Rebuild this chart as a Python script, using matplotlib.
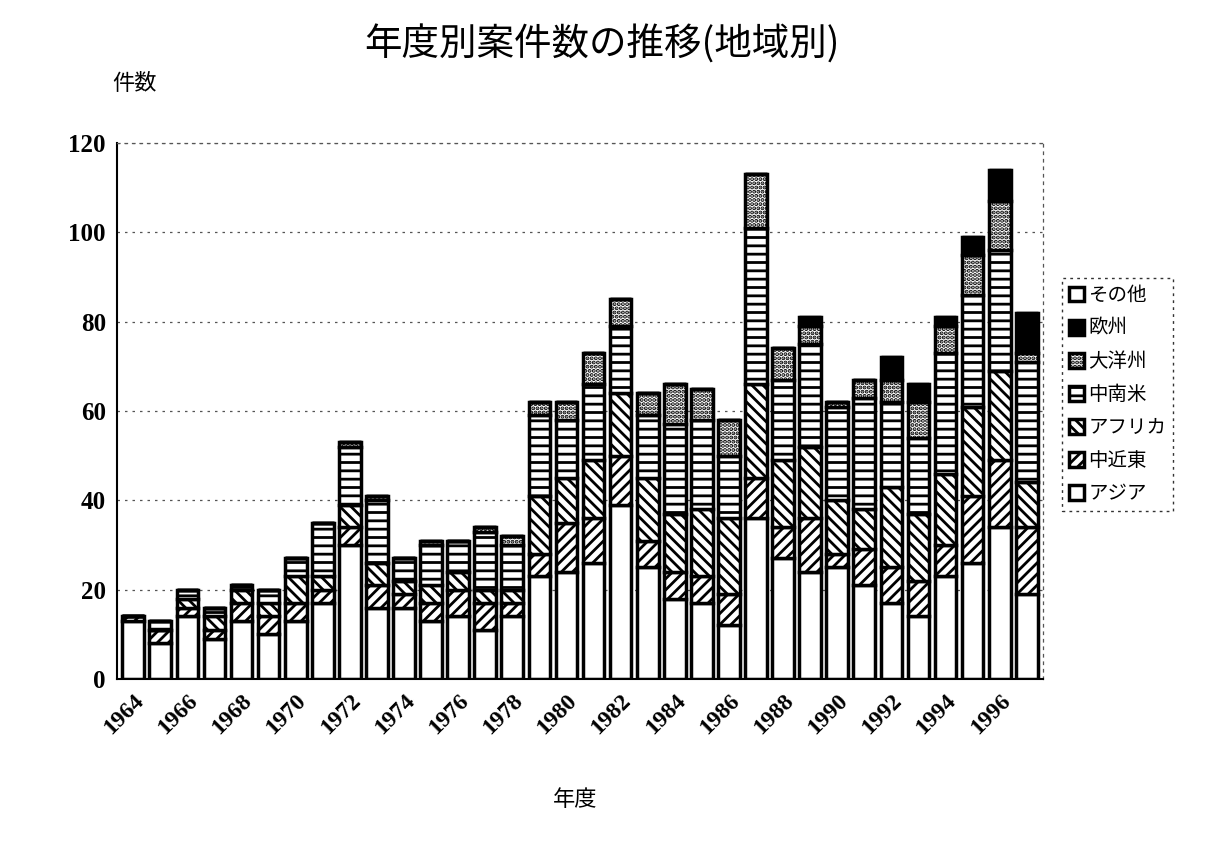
import matplotlib
matplotlib.use("Agg")
import matplotlib.pyplot as plt
import numpy as np

plt.rcParams["font.family"] = ["Noto Sans CJK JP", "DejaVu Sans"]
plt.rcParams["hatch.linewidth"] = 2.0

# --- data (counts per fiscal year, by region) ---
years = list(range(1964, 1998))
asia = [13, 8, 14, 9, 13, 10, 13, 17, 30, 16, 16, 13, 14, 11, 14, 23, 24, 26, 39, 25,
        18, 17, 12, 36, 27, 24, 25, 21, 17, 14, 23, 26, 34, 19]
middle_east = [1, 3, 2, 2, 4, 4, 4, 3, 4, 5, 3, 4, 6, 6, 3, 5, 11, 10, 11, 6,
               6, 6, 7, 9, 7, 12, 3, 8, 8, 8, 7, 15, 15, 15]
africa = [0, 0, 2, 3, 3, 3, 6, 3, 5, 5, 3, 4, 4, 3, 3, 13, 10, 13, 14, 14,
          13, 15, 17, 21, 15, 16, 12, 9, 18, 15, 16, 20, 20, 10]
latin_america = [0, 2, 2, 2, 1, 3, 4, 12, 13, 14, 5, 9, 7, 13, 10, 18, 13, 17, 15, 14,
                 20, 20, 14, 35, 18, 23, 21, 25, 19, 17, 27, 25, 27, 27]
oceania = [0, 0, 0, 0, 0, 0, 0, 0, 1, 1, 0, 1, 0, 1, 2, 3, 4, 7, 6, 5,
           9, 7, 8, 12, 7, 4, 1, 4, 5, 8, 6, 9, 11, 2]
europe = [0, 0, 0, 0, 0, 0, 0, 0, 0, 0, 0, 0, 0, 0, 0, 0, 0, 0, 0, 0,
          0, 0, 0, 0, 0, 2, 0, 0, 5, 4, 2, 4, 7, 9]
other = [0] * 34

series = [
    ("アジア", asia, "white", ""),
    ("中近東", middle_east, "white", "///"),
    ("アフリカ", africa, "white", "\\\\\\"),
    ("中南米", latin_america, "white", "--"),
    ("大洋州", oceania, "white", "...."),
    ("欧州", europe, "black", ""),
    ("その他", other, "white", ""),
]

fig = plt.figure(figsize=(12.07, 8.57), dpi=100)
ax = fig.add_axes([117 / 1207, 1 - 679 / 857, (1043 - 117) / 1207, (679 - 143) / 857])

x = np.arange(len(years))
bottom = np.zeros(len(years))
handles = []
for name, vals, color, hatch in series:
    vals = np.array(vals, dtype=float)
    bars = ax.bar(x, vals, 0.8, bottom=bottom, color=color, hatch=hatch,
                  edgecolor="black", linewidth=2.5, label=name)
    handles.append(bars)
    bottom += vals

ax.set_xlim(-0.6, len(years) - 0.4)
ax.set_ylim(0, 120)
ax.set_yticks(range(0, 121, 20))
ax.set_yticklabels([str(v) for v in range(0, 121, 20)],
                   fontfamily="Liberation Serif", fontsize=18, fontweight="bold")
ax.set_xticks(x[::2])
ax.set_xticklabels([str(y) for y in years[::2]], rotation=45, ha="right",
                   rotation_mode="anchor",
                   fontfamily="Liberation Serif", fontsize=17, fontweight="bold")
ax.tick_params(axis="both", length=0, pad=8)

ax.grid(axis="y", linestyle=(0, (2, 4)), color="#555555", linewidth=0.9)
ax.set_axisbelow(True)
for side in ["top", "right"]:
    ax.spines[side].set_linestyle((0, (2, 4)))
    ax.spines[side].set_color("#555555")
    ax.spines[side].set_linewidth(0.9)
ax.spines["left"].set_linewidth(1.5)
ax.spines["bottom"].set_linewidth(1.5)

fig.text(602 / 1207, 1 - 45 / 857, "年度別案件数の推移(地域別)", ha="center", va="center",
         fontsize=27)
fig.text(112 / 1207, 1 - 83 / 857, "件数", ha="left", va="center", fontsize=16)
fig.text(575 / 1207, 1 - 800 / 857, "年度", ha="center", va="center", fontsize=16)

leg = ax.legend(handles[::-1], [s[0] for s in series][::-1],
                loc="upper left", bbox_to_anchor=(1062 / 1207, 1 - 278 / 857),
                bbox_transform=fig.transFigure, fontsize=14, frameon=True,
                fancybox=False, edgecolor="black", handlelength=0.8,
                handleheight=0.8, handletextpad=0.2, labelspacing=0.62,
                borderpad=0.35, borderaxespad=0)
leg.get_frame().set_linestyle((0, (2, 3)))

fig.savefig("out.png", dpi=100)
